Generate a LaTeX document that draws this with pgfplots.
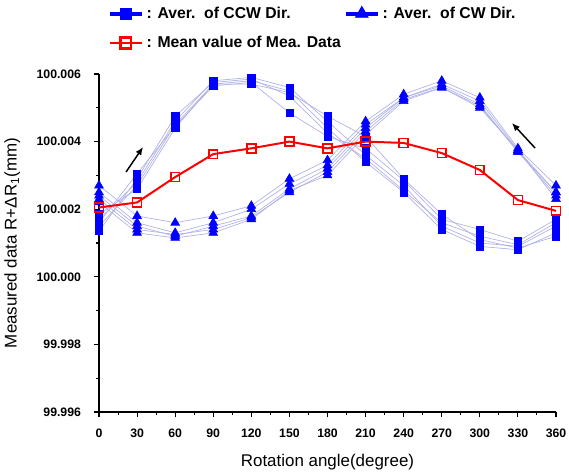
\documentclass[border=0pt]{standalone}
\usepackage{fontspec}
\setmainfont{Liberation Sans}
\usepackage{pgfplots}
\usepackage{pgfplotstable}
\pgfplotsset{compat=1.18}
\usetikzlibrary{arrows.meta}

\definecolor{markblue}{HTML}{0000FF}
\definecolor{thinline}{HTML}{AEB0E6}
\definecolor{meanred}{HTML}{FF0000}

% y = deviation from 100 mm in um (e.g. 2.05 -> 100.00205 mm)
\pgfplotstableread{
x    a     b     c     d     e
0    1.5   1.7   1.35  1.6   1.85
30   2.7   2.8   2.9   3.05  2.6
60   4.5   4.6   4.75  4.45  4.4
90   5.7   5.8   5.75  5.65  5.7
120  5.8   5.9   5.85  5.75  5.7
150  5.5   5.6   5.35  4.85  5.45
180  4.4   4.6   4.25  4.15  4.75
210  3.4   3.6   3.5   3.8   4.15
240  2.5   2.7   2.55  2.85  2.9
270  1.4   1.5   1.6   1.7   1.85
300  0.9   1.0   1.2   1.4   1.1
330  0.8   0.9   0.95  1.05  0.85
360  1.3   1.5   1.6   1.7   1.2
}\ccw

\pgfplotstableread{
x    f     g     h     i     j
0    2.7   2.5   2.4   2.3   2.2
30   1.8   1.6   1.5   1.4   1.3
60   1.6   1.3   1.2   1.25  1.15
90   1.8   1.6   1.5   1.4   1.3
120  2.1   2.0   1.8   1.75  1.7
150  2.9   2.75  2.6   2.5   2.55
180  3.45  3.3   3.2   3.1   3.0
210  4.6   4.5   4.4   4.3   4.2
240  5.4   5.3   5.3   5.25  5.2
270  5.8   5.7   5.65  5.6   5.6
300  5.3   5.2   5.1   5.0   5.05
330  3.8   3.75  3.7   3.75  3.7
360  2.7   2.5   2.4   2.3   2.5
}\cw

\pgfplotstableread{
x    m
0    2.05
30   2.2
60   2.95
90   3.63
120  3.8
150  4.0
180  3.8
210  4.0
240  3.96
270  3.66
300  3.16
330  2.27
360  1.95
}\mean

\begin{document}
\begin{tikzpicture}
\begin{axis}[
    name=ax,
    scale only axis,
    width=342.75pt, height=253.5pt,
    xmin=0, xmax=360, ymin=-4, ymax=6,
    axis x line*=bottom, axis y line*=left,
    axis line style={line width=0.8pt},
    hide obscured x ticks=false, hide obscured y ticks=false,
    xtick={0,30,...,360}, minor x tick num=1,
    ytick={-4,-2,...,6}, minor y tick num=1,
    yticklabels={99.996,99.998,100.000,100.002,100.004,100.006},
    tick align=outside,
    major tick length=4pt, minor tick length=2.5pt,
    tick style={black, line width=0.8pt},
    ticklabel style={font=\fontsize{9.2}{10}\selectfont\bfseries},
    xticklabel style={/pgf/number format/assume math mode=true, yshift=-5pt},
    yticklabel style={xshift=-6pt},
    xlabel={Rotation angle(degree)},
    ylabel={Measured data R+ΔR\textsubscript{1}(mm)},
    label style={font=\fontsize{12.7}{15}\selectfont},
    xlabel style={at={(axis description cs:0.5,0)}, anchor=north, yshift=-28pt},
    ylabel style={at={(axis description cs:-0.19,0.5)}, anchor=center},
    legend columns=2,
    legend cell align=left,
    legend style={at={(axis description cs:0.01,1.215)}, anchor=north west,
        draw=none, fill=none, font=\fontsize{11.8}{14}\selectfont\bfseries,
        row sep=8pt},
    legend image code/.code={\draw[mark repeat=2,mark phase=2,#1]
        plot coordinates {(0pt,0pt) (12pt,0pt) (24pt,0pt)};},
    clip=false,
]
% thin connecting lines
\pgfplotsinvokeforeach{a,b,c,d,e}{
  \addplot[thinline, line width=0.5pt, forget plot] table[x=x, y=#1] {\ccw};
}
\pgfplotsinvokeforeach{f,g,h,i,j}{
  \addplot[thinline, line width=0.5pt, forget plot] table[x=x, y=#1] {\cw};
}
% markers
\pgfplotsinvokeforeach{a,b,c,d,e}{
  \addplot[only marks, mark=square*, mark size=2.7pt, markblue, forget plot] table[x=x, y=#1] {\ccw};
}
\pgfplotsinvokeforeach{f,g,h,i,j}{
  \addplot[only marks, mark=triangle*, mark size=3.8pt, markblue, forget plot] table[x=x, y=#1] {\cw};
}
% mean
\addplot[meanred, line width=1.5pt, mark=square, mark size=3.3pt,
    mark options={draw=meanred, fill=white, solid, line width=1.2pt}, forget plot] table[x=x, y=m] {\mean};

\addlegendimage{markblue, line width=3pt, mark=square*, mark size=4pt, mark options={line width=0.5pt}}
\addlegendentry{\hbox to 146pt{: Aver.\ \ of CCW Dir.\hfil}}
\addlegendimage{markblue, line width=3pt, mark=triangle*, mark size=5.5pt, mark options={line width=0.5pt}}
\addlegendentry{: Aver.\ \ of CW Dir.}
\addlegendimage{meanred, line width=2pt, mark=square, mark size=4pt, mark options={draw=meanred, fill=white, line width=1.8pt}}
\addlegendentry{\hbox to 0pt{: Mean value of Mea. Data\hss}}

% direction arrows
\draw[-{Latex[length=6pt,width=5pt]}, line width=1.1pt] (axis cs:21.3,3.1) -- (axis cs:34.7,3.84);
\draw[-{Latex[length=6pt,width=5pt]}, line width=1.1pt] (axis cs:343.5,3.81) -- (axis cs:325.3,4.55);
\end{axis}
\path (ax.south west) ++(-74.25pt,-45pt) coordinate (bbl);
\path (ax.north east) ++(9.75pt,55.5pt) coordinate (btr);
\pgfresetboundingbox
\path (bbl) rectangle (btr);
\end{tikzpicture}
\end{document}
